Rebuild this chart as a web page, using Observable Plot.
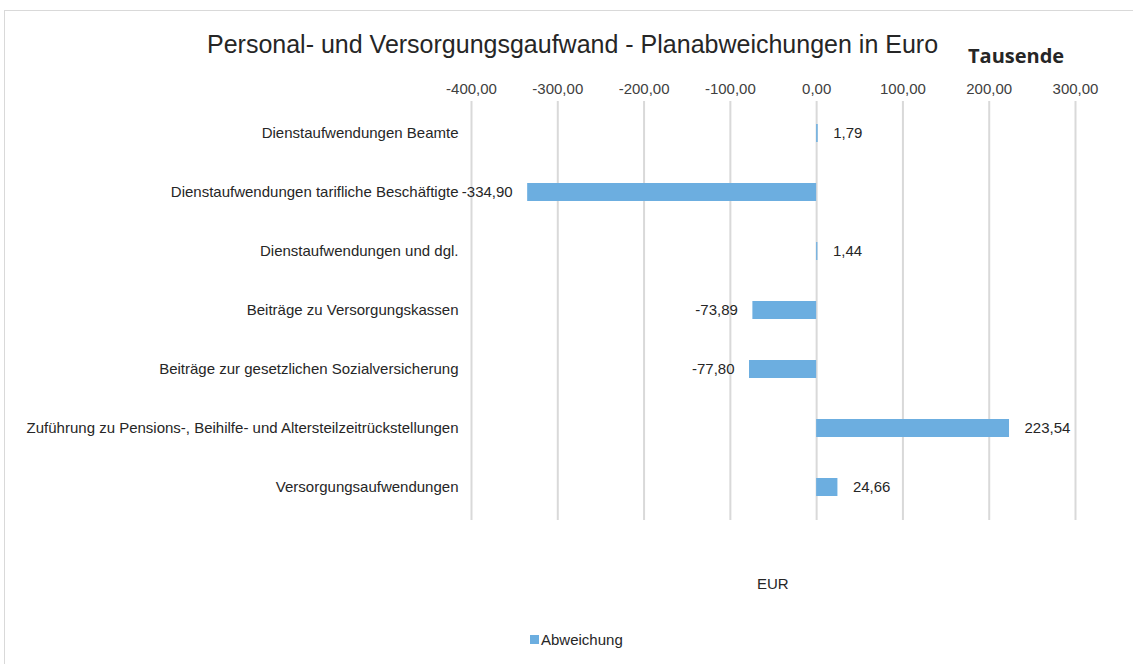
<!DOCTYPE html>
<html><head><meta charset="utf-8">
<script src="https://cdn.jsdelivr.net/npm/d3@7"></script>
<script src="https://cdn.jsdelivr.net/npm/@observablehq/plot@0.6"></script>
<style>
body{margin:0;background:#fff;font-family:"Liberation Sans",Arial,sans-serif;}
#wrap{position:relative;width:1133px;height:664px;overflow:hidden;}
#frame{position:absolute;left:4px;top:10px;width:1200px;height:700px;border-top:1.5px solid #d9d9d9;border-left:1.5px solid #d9d9d9;}
#title{position:absolute;left:207px;top:30px;font-size:25px;color:#262626;white-space:nowrap;}
#unit{position:absolute;left:968px;top:42px;font-family:"Open Sans",sans-serif;font-weight:bold;font-size:20px;color:#262626;}
#eur{position:absolute;left:757px;top:575px;font-size:15px;color:#262626;}
#legend{position:absolute;left:530px;top:631px;font-size:15px;color:#262626;display:flex;align-items:center;}
#legend span.sw{display:inline-block;width:9px;height:9px;background:#6caee0;margin-right:2px;}
#chart{position:absolute;left:0;top:0;}
</style></head>
<body><div id="wrap"><div id="frame"></div><div id="chart"></div>
<div id="title">Personal- und Versorgungsgaufwand - Planabweichungen in Euro</div>
<div id="unit">Tausende</div>
<div id="eur">EUR</div>
<div id="legend"><span class="sw"></span>Abweichung</div>
</div>
<script>
const categories = [
  "Dienstaufwendungen Beamte",
  "Dienstaufwendungen tarifliche Beschäftigte",
  "Dienstaufwendungen und dgl.",
  "Beiträge zu Versorgungskassen",
  "Beiträge zur gesetzlichen Sozialversicherung",
  "Zuführung zu Pensions-, Beihilfe- und Altersteilzeitrückstellungen",
  "Versorgungsaufwendungen"
];
const values = [1.79, -334.90, 1.44, -73.89, -77.80, 223.54, 24.66];
const xTicks = [-400, -300, -200, -100, 0, 100, 200, 300];

const data = categories.map((c, i) => ({cat: c, v: values[i]}));
const fmt = v => v.toFixed(2).replace(".", ",");

const chart = Plot.plot({
  width: 1133,
  height: 664,
  marginLeft: 471,
  marginRight: 58,
  marginTop: 101,
  marginBottom: 144,
  style: {fontFamily: "Liberation Sans, Arial, sans-serif", fontSize: "15px", color: "#404040", background: "transparent"},
  x: {domain: [-400, 300], ticks: xTicks, tickFormat: fmt, label: null, axis: null},
  y: {domain: categories, paddingInner: 0.69, paddingOuter: 0.38, label: null, axis: null},
  marks: [
    Plot.gridX(xTicks, {stroke: "#d9d9d9", strokeOpacity: 1, strokeWidth: 2}),
    Plot.axisX({anchor: "top", ticks: xTicks, tickFormat: fmt, tickSize: 0, tickPadding: 8, label: null, fontSize: 15, fill: "#404040"}),
    Plot.axisY({tickSize: 0, tickPadding: 13, label: null, fontSize: 15, fill: "#262626"}),
    Plot.barX(data, {x: "v", y: "cat", fill: "#6caee0"}),
    Plot.text(data, {x: "v", y: "cat", text: d => fmt(d.v), textAnchor: "start", filter: d => d.v >= 0, dx: 15, fontSize: 15, fill: "#262626"}),
    Plot.text(data, {x: "v", y: "cat", text: d => fmt(d.v), textAnchor: "end", filter: d => d.v < 0, dx: -15, fontSize: 15, fill: "#262626"})
  ]
});
document.getElementById("chart").appendChild(chart);
</script>
</body></html>
